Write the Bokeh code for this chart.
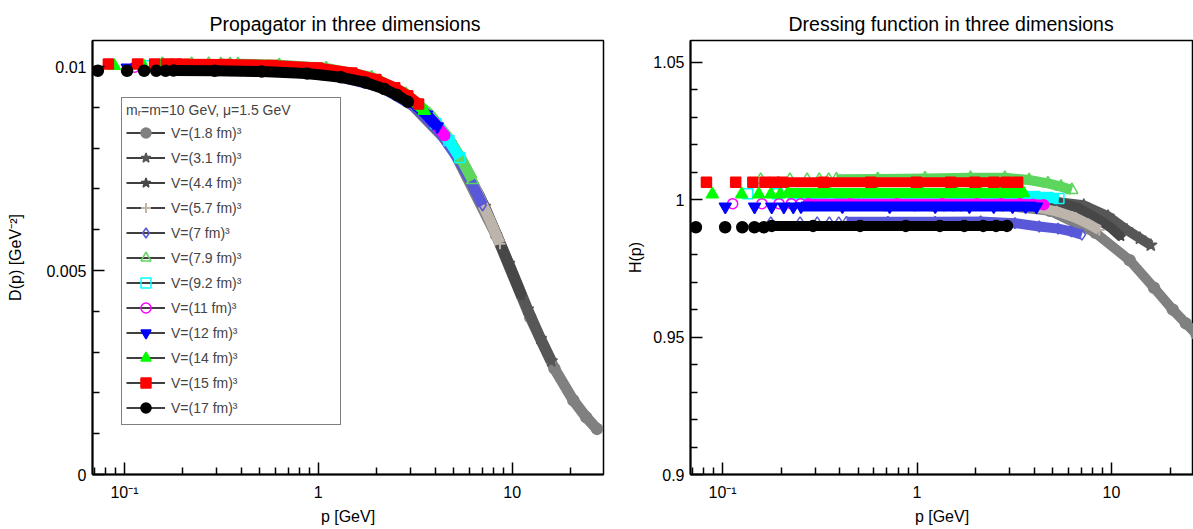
from bokeh.plotting import figure
from bokeh.layouts import row
from bokeh.models import Range1d, FixedTicker, Legend, LegendItem
from bokeh.embed import file_html
from bokeh.resources import INLINE

FONT = "Liberation Sans"
NAN = float("nan")

# ---------------- data ----------------
labels = ["V=(1.8 fm)³", "V=(3.1 fm)³", "V=(4.4 fm)³", "V=(5.7 fm)³", "V=(7 fm)³",
          "V=(7.9 fm)³", "V=(9.2 fm)³", "V=(11 fm)³", "V=(12 fm)³", "V=(14 fm)³",
          "V=(15 fm)³", "V=(17 fm)³"]

p_1p8 = [0.689, 0.974, 1.193, 1.378, 1.541, 1.688, 2.756, 4.823, 8.27, 12.40, 16.54, 20.67, 24.12, 27.4]
D_1p8 = [0.009933, 0.009886, 0.009840, 0.009794, 0.009748, 0.009704, 0.009275, 0.008080, 0.005867, 0.003853, 0.002594, 0.001821, 0.001401, 0.001118]
H_1p8 = [0.998, 0.998, 0.998, 0.998, 0.998, 0.998, 0.998, 0.996, 0.988, 0.978, 0.968, 0.960, 0.955, 0.951]

p_3p1 = [0.400, 0.566, 0.693, 0.800, 0.894, 0.980, 1.60, 2.80, 4.80, 7.20, 9.60, 12.0, 14.0, 15.92]
D_3p1 = [0.009984, 0.009968, 0.009952, 0.009936, 0.009921, 0.009905, 0.009750, 0.009273, 0.008123, 0.006573, 0.005173, 0.004053, 0.003331, 0.002783]
H_3p1 = [1.000, 1.000, 1.000, 1.000, 1.000, 1.000, 1.000, 1.000, 0.9995, 0.998, 0.994, 0.989, 0.986, 0.9835]

p_4p4 = [0.282, 0.399, 0.488, 0.564, 0.631, 0.691, 1.128, 1.974, 3.384, 5.076, 6.768, 8.46, 9.87, 11.22]
D_4p4 = [0.009992, 0.009984, 0.009976, 0.009968, 0.009960, 0.009952, 0.009874, 0.009625, 0.008973, 0.007947, 0.006838, 0.005788, 0.005015, 0.004367]
H_4p4 = [1.000, 1.000, 1.000, 1.000, 1.000, 1.000, 1.000, 1.000, 1.000, 0.9995, 0.997, 0.993, 0.990, 0.9865]

p_5p7 = [0.2175, 0.3076, 0.3767, 0.435, 0.4863, 0.533, 0.870, 1.523, 2.61, 3.915, 5.22, 6.525, 7.61, 8.65]
D_5p7 = [0.010010, 0.010006, 0.010001, 0.009996, 0.009991, 0.009985, 0.009935, 0.009777, 0.009353, 0.008649, 0.007826, 0.006968, 0.006277, 0.005657]
H_5p7 = [1.0015, 1.0015, 1.0015, 1.0015, 1.0015, 1.0013, 1.001, 1.0004, 0.999, 0.9975, 0.9958, 0.9935, 0.9912, 0.989]

p_7 = [0.177, 0.2503, 0.3066, 0.354, 0.3958, 0.4337, 0.708, 1.239, 2.124, 3.186, 4.248, 5.31, 6.195, 7.04]
D_7 = [0.009915, 0.009912, 0.009909, 0.009906, 0.009902, 0.009901, 0.009871, 0.009770, 0.009493, 0.009001, 0.008389, 0.007718, 0.007143, 0.006601]
H_7 = [0.9918, 0.9918, 0.9918, 0.9918, 0.9918, 0.992, 0.992, 0.992, 0.9921, 0.9915, 0.9903, 0.9895, 0.9885, 0.9873]

p_7p9 = [0.157, 0.222, 0.272, 0.314, 0.351, 0.385, 0.628, 1.099, 1.884, 2.826, 3.768, 4.71, 5.495, 6.249]
D_7p9 = [0.010070, 0.010068, 0.010066, 0.010063, 0.010061, 0.010060, 0.010036, 0.009958, 0.009735, 0.009334, 0.008820, 0.008234, 0.007717, 0.007218]
H_7p9 = [1.0073, 1.0073, 1.0073, 1.0073, 1.0073, 1.0075, 1.0076, 1.0078, 1.008, 1.008, 1.0072, 1.006, 1.0048, 1.0036]

p_9p2 = [0.1348, 0.1906, 0.2335, 0.2696, 0.3014, 0.330, 0.539, 0.944, 1.618, 2.426, 3.235, 4.044, 4.718, 5.365]
D_9p2 = [0.010020, 0.010018, 0.010017, 0.010015, 0.010013, 0.010011, 0.009993, 0.009933, 0.009766, 0.009465, 0.009069, 0.008605, 0.008186, 0.007769]
H_9p2 = [1.0022, 1.0022, 1.0022, 1.0022, 1.0022, 1.0022, 1.0022, 1.0022, 1.0022, 1.0022, 1.0018, 1.0012, 1.0008, 1.0005]

p_11 = [0.1127, 0.1594, 0.1952, 0.2254, 0.2520, 0.276, 0.451, 0.789, 1.352, 2.029, 2.705, 3.381, 3.945, 4.485]
D_11 = [0.009985, 0.009983, 0.009982, 0.009981, 0.009980, 0.009978, 0.009966, 0.009924, 0.009807, 0.009591, 0.009305, 0.008962, 0.008640, 0.008310]
H_11 = [0.9986, 0.9986, 0.9986, 0.9986, 0.9986, 0.9986, 0.9986, 0.9986, 0.9986, 0.9986, 0.9986, 0.9986, 0.9984, 0.9982]

p_12 = [0.1033, 0.1461, 0.1789, 0.2066, 0.2310, 0.253, 0.413, 0.723, 1.240, 1.859, 2.479, 3.099, 3.616, 4.111]
D_12 = [0.009974, 0.009973, 0.009972, 0.009971, 0.009970, 0.009970, 0.009959, 0.009924, 0.009825, 0.009643, 0.009398, 0.009102, 0.008822, 0.008534]
H_12 = [0.9975, 0.9975, 0.9975, 0.9975, 0.9975, 0.9976, 0.9976, 0.9976, 0.9976, 0.9976, 0.9976, 0.9976, 0.9976, 0.9975]

p_14 = [0.0886, 0.1253, 0.1535, 0.1772, 0.1981, 0.217, 0.354, 0.620, 1.063, 1.595, 2.126, 2.658, 3.10, 3.526]
D_14 = [0.010019, 0.010018, 0.010018, 0.010017, 0.010016, 0.010020, 0.010012, 0.009987, 0.009913, 0.009776, 0.009592, 0.009364, 0.009146, 0.008917]
H_14 = [1.002, 1.002, 1.002, 1.002, 1.002, 1.0025, 1.0025, 1.0025, 1.0025, 1.0025, 1.0025, 1.0025, 1.0025, 1.0025]

p_15 = [0.0826, 0.1168, 0.1431, 0.1652, 0.1847, 0.2024, 0.330, 0.578, 0.991, 1.487, 1.982, 2.478, 2.89, 3.29]
D_15 = [0.010063, 0.010063, 0.010062, 0.010061, 0.010061, 0.010060, 0.010053, 0.010030, 0.009966, 0.009846, 0.009684, 0.009482, 0.009288, 0.009081]
H_15 = [1.0064, 1.0064, 1.0064, 1.0064, 1.0064, 1.0064, 1.0064, 1.0064, 1.0064, 1.0064, 1.0064, 1.0064, 1.0064, 1.0064]

p_17 = [0.0729, 0.1031, 0.1263, 0.1458, 0.1630, 0.179, 0.292, 0.510, 0.875, 1.31, 1.75, 2.19, 2.55, 2.90]
D_17 = [0.009899, 0.009899, 0.009898, 0.009898, 0.009897, 0.009902, 0.009896, 0.009879, 0.009829, 0.009738, 0.009611, 0.009452, 0.009301, 0.009137]
H_17 = [0.990, 0.990, 0.990, 0.990, 0.990, 0.9905, 0.9905, 0.9905, 0.9905, 0.9905, 0.9905, 0.9905, 0.9905, 0.9905]

x_ticks = [0.1, 1, 10]
x_tick_labels = ["10⁻¹", "1", "10"]
x_minor = [0.07, 0.08, 0.09, 0.2, 0.3, 0.4, 0.5, 0.6, 0.7, 0.8, 0.9,
           2, 3, 4, 5, 6, 7, 8, 9, 20]
D_ticks = [0, 0.005, 0.01]
D_tick_labels = ["0", "0.005", "0.01"]
D_minor = [0.001, 0.002, 0.003, 0.004, 0.006, 0.007, 0.008, 0.009]
H_ticks = [0.9, 0.95, 1.0, 1.05]
H_tick_labels = ["0.9", "0.95", "1", "1.05"]
H_minor = [0.91, 0.92, 0.93, 0.94, 0.96, 0.97, 0.98, 0.99, 1.01, 1.02, 1.03, 1.04]

# ---------------- styles ----------------
P = [p_1p8, p_3p1, p_4p4, p_5p7, p_7, p_7p9, p_9p2, p_11, p_12, p_14, p_15, p_17]
D = [D_1p8, D_3p1, D_4p4, D_5p7, D_7, D_7p9, D_9p2, D_11, D_12, D_14, D_15, D_17]
H = [H_1p8, H_3p1, H_4p4, H_5p7, H_7, H_7p9, H_9p2, H_11, H_12, H_14, H_15, H_17]
markers = ["circle", "star", "star", "cross", "diamond", "triangle", "square",
           "circle", "inverted_triangle", "triangle", "square", "circle"]
colors = ["#808080", "#575757", "#474747", "#bdb5ac", "#5858d8", "#5cd65c", "#00ffff",
          "#ff00ff", "#0000ff", "#00ff00", "#ff0000", "#000000"]
filled = [True, True, True, False, False, False, False, False, True, True, True, True]
msize = [11, 13, 9, 11, 11, 12, 10, 10, 12, 12, 10, 11]
NSPARSE = 5
BAND_LEFT = 11
BAND_RIGHT = 10


def make_fig(width, y_range, x_end, border_left, border_right, title, title_offset, ylabel, ylab_standoff):
    f = figure(width=width, height=529, x_axis_type="log",
               x_range=Range1d(0.0684, x_end), y_range=y_range,
               output_backend="svg", toolbar_location=None,
               min_border_left=border_left, min_border_right=border_right,
               min_border_top=40, min_border_bottom=55, title=title)
    f.title.align = "left"
    f.title.offset = title_offset
    f.title.vertical_align = "middle"
    f.title.text_font = FONT
    f.title.text_font_size = "19.5px"
    f.title.text_font_style = "normal"
    f.title.text_color = "black"
    f.xgrid.visible = False
    f.ygrid.visible = False
    f.outline_line_color = "black"
    f.outline_line_width = 1.5
    f.outline_line_alpha = 1
    f.background_fill_color = "white"
    f.border_fill_color = "white"
    for ax in (f.xaxis[0], f.yaxis[0]):
        ax.axis_line_width = 2
        ax.axis_line_color = "black"
        ax.major_tick_in = 12
        ax.major_tick_out = 0
        ax.minor_tick_in = 7
        ax.minor_tick_out = 0
        ax.major_tick_line_width = 1.5
        ax.minor_tick_line_width = 1.5
        ax.major_tick_line_color = "black"
        ax.minor_tick_line_color = "black"
        ax.major_label_text_font = FONT
        ax.major_label_text_font_size = "16px"
        ax.major_label_text_color = "black"
        ax.axis_label_text_font = FONT
        ax.axis_label_text_font_size = "16px"
        ax.axis_label_text_font_style = "normal"
        ax.axis_label_text_color = "black"
    f.xaxis.ticker = FixedTicker(ticks=x_ticks, minor_ticks=x_minor)
    f.xaxis.major_label_overrides = dict(zip(x_ticks, x_tick_labels))
    f.xaxis.major_label_standoff = 9
    f.xaxis.axis_label = "p [GeV]"
    f.xaxis.axis_label_standoff = 4
    f.yaxis.major_label_standoff = 6
    f.yaxis.axis_label = ylabel
    f.yaxis.axis_label_standoff = ylab_standoff
    return f


left = make_fig(620, Range1d(0, 0.01064), 29.6, 92, 17,
                "Propagator in three dimensions", 117, "D(p) [GeV⁻²]", 19)
left.yaxis.ticker = FixedTicker(ticks=D_ticks, minor_ticks=D_minor)
left.yaxis.major_label_overrides = dict(zip(D_ticks, D_tick_labels))

right = make_fig(573, Range1d(0.9, 1.058), 26.4, 70, 0,
                 "Dressing function in three dimensions", 98, "H(p)", 6)
right.yaxis.ticker = FixedTicker(ticks=H_ticks, minor_ticks=H_minor)
right.yaxis.major_label_overrides = dict(zip(H_ticks, H_tick_labels))

items = []
for i in range(len(labels)):
    cap = "round" if markers[i] == "circle" else "butt"
    common = dict(marker=markers[i], size=msize[i], line_color=colors[i],
                  fill_color=colors[i] if filled[i] else None,
                  line_width=2 if markers[i] == "cross" else 1.5)
    for f, Y, bw in ((left, D[i], BAND_LEFT), (right, H[i], BAND_RIGHT)):
        f.line(P[i][NSPARSE:], Y[NSPARSE:], line_width=bw, line_color=colors[i],
               line_cap=cap, line_join="round")
    r = left.scatter(P[i], D[i], **common)
    right.scatter(P[i], H[i], **common)
    # legend sample line (no visible data)
    dummy = left.line(x=[NAN, NAN], y=[NAN, NAN], line_color="black", line_width=1.5)
    items.append(LegendItem(label=labels[i], renderers=[dummy, r]))

legend = Legend(items=items, location=(29, 49), title="mᵣ=m=10 GeV, μ=1.5 GeV",
                glyph_width=39, glyph_height=25, label_height=25, spacing=0,
                padding=4, margin=0, label_standoff=6, label_width=165,
                title_standoff=2, border_line_color="black", border_line_width=1.5,
                background_fill_color="white", background_fill_alpha=1,
                label_text_font=FONT, label_text_font_size="14px",
                title_text_font=FONT, title_text_font_size="14px",
                title_text_font_style="normal")
left.add_layout(legend)

layout = row(left, right)
open("out.html", "w").write(file_html(layout, INLINE))
